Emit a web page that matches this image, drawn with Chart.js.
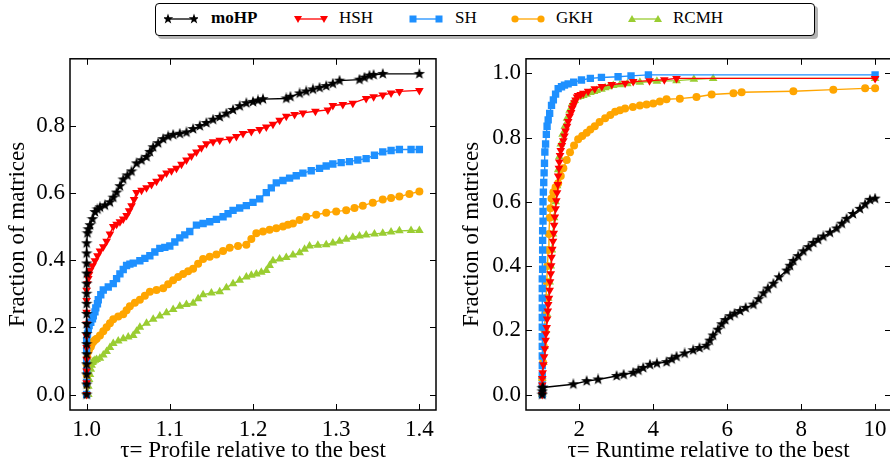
<!DOCTYPE html>
<html>
<head>
<meta charset="utf-8">
<script src="https://cdn.jsdelivr.net/npm/chart.js@4.4.1/dist/chart.umd.min.js"></script>
<style>
body { margin: 0; width: 890px; height: 468px; overflow: hidden; background: #fff; position: relative;
       font-family: "Liberation Serif", "Times New Roman", serif; }
#legend { position: absolute; left: 155px; top: 3px; width: 658px; height: 31px; border: 1.5px solid #000;
          border-radius: 4px; box-shadow: 3px 3px 0 #b4b4b4; background: #fff; z-index: 2; }
#legend svg, #legend span { position: absolute; }
#legend span { font-size: 17px; top: 4px; color: #000; }
#c1 { position: absolute; left: 0; top: 40px; }
#c2 { position: absolute; left: 445px; top: 40px; }
</style>
</head>
<body>
<div id="legend"></div>
<canvas id="c1" width="445" height="428"></canvas>
<canvas id="c2" width="460" height="428"></canvas>
<script>
// series names / colours
const names = ['moHP', 'HSH', 'SH', 'GKH', 'RCMH'];
const colors = ['#000000', '#ff0000', '#1e90ff', '#ffa500', '#9acd32'];

// left panel: profile relative to the best
const leftXTicks = [1.0, 1.1, 1.2, 1.3, 1.4];
const leftYTicks = [0.0, 0.2, 0.4, 0.6, 0.8];

const moHP_L_x = [1.0, 1.0, 1.0, 1.0, 1.0, 1.0, 1.0, 1.0, 1.0, 1.0, 1.0, 1.0, 1.0, 1.0, 1.0, 1.0, 1.001, 1.002, 1.004, 1.007, 1.01, 1.013, 1.016, 1.022, 1.028, 1.032, 1.036, 1.04, 1.044, 1.049, 1.054, 1.06, 1.066, 1.072, 1.076, 1.08, 1.086, 1.092, 1.098, 1.104, 1.112, 1.12, 1.128, 1.136, 1.144, 1.152, 1.16, 1.168, 1.176, 1.184, 1.192, 1.2, 1.206, 1.212, 1.24, 1.245, 1.256, 1.264, 1.272, 1.28, 1.288, 1.296, 1.304, 1.328, 1.334, 1.34, 1.345, 1.356, 1.4];
const moHP_L_y = [0, 0.03, 0.06, 0.09, 0.12, 0.15, 0.18, 0.21, 0.24, 0.27, 0.30, 0.33, 0.36, 0.39, 0.42, 0.45, 0.48, 0.492, 0.504, 0.522, 0.543, 0.551, 0.557, 0.563, 0.572, 0.586, 0.601, 0.62, 0.640, 0.652, 0.664, 0.688, 0.697, 0.707, 0.722, 0.736, 0.748, 0.760, 0.768, 0.773, 0.776, 0.780, 0.790, 0.799, 0.808, 0.818, 0.826, 0.836, 0.847, 0.858, 0.867, 0.871, 0.875, 0.879, 0.881, 0.886, 0.896, 0.902, 0.908, 0.913, 0.918, 0.925, 0.934, 0.937, 0.943, 0.949, 0.951, 0.954, 0.954];

const HSH_L_x = [1.0, 1.0, 1.0, 1.0, 1.0, 1.0, 1.0, 1.0, 1.0, 1.0, 1.001, 1.002, 1.003, 1.004, 1.007, 1.01, 1.013, 1.016, 1.02, 1.024, 1.028, 1.032, 1.036, 1.04, 1.044, 1.048, 1.051, 1.054, 1.057, 1.06, 1.066, 1.072, 1.078, 1.084, 1.09, 1.096, 1.102, 1.108, 1.114, 1.12, 1.126, 1.132, 1.138, 1.144, 1.152, 1.16, 1.172, 1.18, 1.188, 1.198, 1.208, 1.216, 1.224, 1.232, 1.24, 1.25, 1.26, 1.275, 1.29, 1.296, 1.308, 1.32, 1.336, 1.345, 1.356, 1.366, 1.376, 1.4];
const HSH_L_y = [0, 0.035, 0.07, 0.105, 0.14, 0.175, 0.21, 0.245, 0.28, 0.31, 0.33, 0.345, 0.358, 0.369, 0.383, 0.398, 0.413, 0.427, 0.44, 0.456, 0.478, 0.5, 0.507, 0.514, 0.522, 0.533, 0.547, 0.562, 0.58, 0.601, 0.608, 0.615, 0.625, 0.635, 0.647, 0.659, 0.666, 0.673, 0.685, 0.698, 0.71, 0.722, 0.734, 0.746, 0.752, 0.757, 0.760, 0.768, 0.777, 0.783, 0.789, 0.796, 0.804, 0.816, 0.828, 0.833, 0.838, 0.843, 0.847, 0.860, 0.863, 0.867, 0.881, 0.886, 0.891, 0.897, 0.902, 0.905];

const SH_L_x = [1.0, 1.0, 1.0, 1.0, 1.0, 1.0, 1.001, 1.002, 1.003, 1.005, 1.007, 1.008, 1.01, 1.011, 1.013, 1.014, 1.017, 1.02, 1.026, 1.032, 1.036, 1.04, 1.044, 1.048, 1.052, 1.056, 1.064, 1.07, 1.076, 1.082, 1.088, 1.094, 1.1, 1.106, 1.112, 1.118, 1.124, 1.132, 1.14, 1.148, 1.156, 1.164, 1.17, 1.176, 1.184, 1.192, 1.2, 1.208, 1.216, 1.222, 1.228, 1.236, 1.244, 1.252, 1.26, 1.27, 1.28, 1.288, 1.296, 1.306, 1.316, 1.326, 1.336, 1.346, 1.356, 1.366, 1.376, 1.39, 1.4];
const SH_L_y = [0, 0.035, 0.07, 0.1, 0.13, 0.16, 0.18, 0.195, 0.205, 0.215, 0.225, 0.234, 0.246, 0.258, 0.27, 0.282, 0.297, 0.311, 0.32, 0.330, 0.345, 0.359, 0.372, 0.384, 0.388, 0.391, 0.398, 0.405, 0.413, 0.424, 0.435, 0.438, 0.442, 0.454, 0.466, 0.475, 0.485, 0.504, 0.509, 0.514, 0.521, 0.529, 0.538, 0.548, 0.555, 0.562, 0.572, 0.582, 0.601, 0.615, 0.630, 0.637, 0.644, 0.651, 0.659, 0.666, 0.673, 0.680, 0.686, 0.690, 0.693, 0.698, 0.702, 0.712, 0.722, 0.726, 0.729, 0.729, 0.729];

const GKH_L_x = [1.0, 1.0, 1.0, 1.0, 1.001, 1.002, 1.003, 1.005, 1.006, 1.008, 1.01, 1.012, 1.016, 1.02, 1.024, 1.028, 1.032, 1.038, 1.044, 1.048, 1.052, 1.058, 1.064, 1.07, 1.076, 1.084, 1.092, 1.098, 1.104, 1.11, 1.116, 1.122, 1.128, 1.134, 1.14, 1.148, 1.156, 1.164, 1.172, 1.182, 1.192, 1.198, 1.204, 1.212, 1.22, 1.228, 1.236, 1.242, 1.248, 1.256, 1.264, 1.276, 1.288, 1.3, 1.312, 1.322, 1.332, 1.344, 1.356, 1.366, 1.376, 1.388, 1.4];
const GKH_L_y = [0, 0.03, 0.06, 0.09, 0.11, 0.128, 0.135, 0.142, 0.15, 0.157, 0.162, 0.166, 0.176, 0.188, 0.2, 0.212, 0.224, 0.232, 0.239, 0.251, 0.263, 0.273, 0.282, 0.294, 0.306, 0.311, 0.316, 0.328, 0.340, 0.350, 0.359, 0.367, 0.374, 0.389, 0.403, 0.41, 0.417, 0.427, 0.437, 0.442, 0.446, 0.463, 0.480, 0.485, 0.490, 0.495, 0.5, 0.505, 0.509, 0.519, 0.529, 0.535, 0.541, 0.545, 0.548, 0.555, 0.562, 0.571, 0.580, 0.585, 0.589, 0.597, 0.604];

const RCMH_L_x = [1.002, 1.002, 1.003, 1.004, 1.005, 1.006, 1.007, 1.008, 1.01, 1.012, 1.016, 1.02, 1.024, 1.028, 1.032, 1.038, 1.044, 1.05, 1.056, 1.06, 1.064, 1.072, 1.08, 1.088, 1.096, 1.104, 1.112, 1.12, 1.128, 1.134, 1.14, 1.15, 1.16, 1.168, 1.176, 1.184, 1.192, 1.198, 1.204, 1.21, 1.216, 1.22, 1.224, 1.232, 1.24, 1.248, 1.256, 1.262, 1.268, 1.278, 1.288, 1.296, 1.304, 1.312, 1.32, 1.328, 1.336, 1.346, 1.356, 1.366, 1.376, 1.39, 1.4];
const RCMH_L_y = [0, 0.025, 0.045, 0.06, 0.075, 0.087, 0.095, 0.099, 0.102, 0.104, 0.108, 0.118, 0.128, 0.14, 0.152, 0.159, 0.166, 0.171, 0.176, 0.188, 0.2, 0.212, 0.224, 0.234, 0.243, 0.253, 0.263, 0.268, 0.272, 0.285, 0.297, 0.302, 0.306, 0.318, 0.330, 0.340, 0.350, 0.355, 0.359, 0.364, 0.369, 0.384, 0.398, 0.403, 0.408, 0.415, 0.422, 0.432, 0.442, 0.444, 0.446, 0.451, 0.456, 0.462, 0.468, 0.472, 0.475, 0.478, 0.480, 0.484, 0.487, 0.488, 0.488];

// right panel: runtime relative to the best
const rightXTicks = [2, 4, 6, 8, 10];
const rightYTicks = [0.0, 0.2, 0.4, 0.6, 0.8, 1.0];

const moHP_R_x = [1.0, 1.0, 1.0, 1.02, 1.84, 2.2, 2.51, 3.01, 3.2, 3.46, 3.6, 3.73, 3.91, 4.1, 4.36, 4.5, 4.63, 4.85, 5.08, 5.25, 5.44, 5.53, 5.62, 5.75, 5.85, 5.95, 6.08, 6.2, 6.35, 6.5, 6.71, 6.85, 6.98, 7.1, 7.25, 7.4, 7.61, 7.7, 7.79, 7.92, 8.06, 8.2, 8.33, 8.46, 8.6, 8.78, 8.96, 9.1, 9.23, 9.4, 9.59, 9.73, 9.86, 10];
const moHP_R_y = [0.0, 0.01, 0.02, 0.022, 0.032, 0.042, 0.047, 0.058, 0.062, 0.068, 0.075, 0.083, 0.093, 0.097, 0.101, 0.11, 0.118, 0.128, 0.138, 0.145, 0.152, 0.168, 0.184, 0.202, 0.219, 0.232, 0.244, 0.252, 0.26, 0.27, 0.28, 0.297, 0.315, 0.33, 0.345, 0.365, 0.386, 0.401, 0.416, 0.431, 0.446, 0.459, 0.472, 0.482, 0.492, 0.504, 0.517, 0.532, 0.547, 0.562, 0.578, 0.592, 0.606, 0.61];

const HSH_R_x = [1.0, 1.0, 1.0, 1.01, 1.03, 1.05, 1.07, 1.09, 1.1, 1.12, 1.13, 1.15, 1.16, 1.18, 1.2, 1.21, 1.23, 1.24, 1.25, 1.27, 1.29, 1.31, 1.32, 1.34, 1.36, 1.38, 1.4, 1.42, 1.43, 1.45, 1.46, 1.48, 1.5, 1.53, 1.57, 1.6, 1.63, 1.67, 1.7, 1.74, 1.78, 1.81, 1.84, 1.87, 1.9, 1.94, 1.97, 2.04, 2.11, 2.24, 2.42, 2.61, 2.88, 3.24, 3.46, 3.9, 4.3, 4.63, 10];
const HSH_R_y = [0.0, 0.03, 0.05, 0.068, 0.093, 0.118, 0.143, 0.169, 0.189, 0.209, 0.235, 0.26, 0.28, 0.3, 0.325, 0.351, 0.376, 0.401, 0.427, 0.452, 0.477, 0.502, 0.527, 0.553, 0.578, 0.603, 0.628, 0.654, 0.68, 0.704, 0.724, 0.744, 0.76, 0.775, 0.79, 0.805, 0.82, 0.835, 0.85, 0.866, 0.878, 0.891, 0.9, 0.908, 0.917, 0.926, 0.931, 0.934, 0.938, 0.944, 0.952, 0.959, 0.965, 0.969, 0.974, 0.977, 0.98, 0.984, 0.984];

const SH_R_x = [1.0, 1.0, 1.0, 1.0, 1.0, 1.0, 1.0, 1.0, 1.0, 1.0, 1.0, 1.0, 1.0, 1.01, 1.01, 1.01, 1.01, 1.01, 1.02, 1.02, 1.02, 1.03, 1.04, 1.05, 1.06, 1.07, 1.09, 1.11, 1.13, 1.16, 1.2, 1.25, 1.3, 1.36, 1.43, 1.52, 1.6, 1.7, 1.85, 2.06, 2.3, 2.6, 3.05, 3.4, 3.87, 10];
const SH_R_y = [0.0, 0.03, 0.06, 0.09, 0.12, 0.15, 0.18, 0.21, 0.24, 0.27, 0.3, 0.33, 0.36, 0.39, 0.42, 0.45, 0.48, 0.51, 0.54, 0.57, 0.6, 0.63, 0.66, 0.69, 0.72, 0.755, 0.78, 0.81, 0.835, 0.855, 0.875, 0.9, 0.917, 0.935, 0.952, 0.958, 0.963, 0.967, 0.972, 0.979, 0.984, 0.987, 0.989, 0.992, 0.995, 0.995];

const GKH_R_x = [1.0, 1.0, 1.02, 1.04, 1.06, 1.08, 1.1, 1.12, 1.14, 1.16, 1.18, 1.2, 1.22, 1.25, 1.3, 1.36, 1.43, 1.5, 1.57, 1.66, 1.75, 1.86, 1.97, 2.08, 2.2, 2.3, 2.42, 2.55, 2.7, 2.84, 2.97, 3.1, 3.24, 3.45, 3.64, 3.82, 4.0, 4.18, 4.36, 4.72, 5.17, 5.58, 6.17, 6.39, 7.79, 8.87, 9.73, 10];
const GKH_R_y = [0, 0.05, 0.1, 0.15, 0.2, 0.25, 0.3, 0.35, 0.4, 0.45, 0.5, 0.55, 0.58, 0.61, 0.63, 0.645, 0.658, 0.68, 0.704, 0.73, 0.754, 0.775, 0.795, 0.805, 0.815, 0.825, 0.835, 0.848, 0.86, 0.87, 0.88, 0.885, 0.89, 0.895, 0.90, 0.903, 0.906, 0.912, 0.919, 0.921, 0.926, 0.934, 0.938, 0.941, 0.944, 0.949, 0.953, 0.953];

const RCMH_R_x = [1.0, 1.0, 1.03, 1.06, 1.1, 1.13, 1.16, 1.2, 1.23, 1.26, 1.29, 1.32, 1.36, 1.4, 1.43, 1.46, 1.5, 1.55, 1.61, 1.67, 1.74, 1.81, 1.88, 1.95, 2.03, 2.11, 2.2, 2.3, 2.4, 2.47, 2.6, 2.7, 2.8, 2.92, 3.1, 3.3, 3.64, 4.1, 4.63, 5.1, 5.62, 10];
const RCMH_R_y = [0, 0.05, 0.1, 0.15, 0.2, 0.25, 0.3, 0.35, 0.4, 0.45, 0.5, 0.55, 0.6, 0.65, 0.7, 0.74, 0.78, 0.81, 0.835, 0.86, 0.885, 0.906, 0.915, 0.925, 0.928, 0.931, 0.935, 0.94, 0.943, 0.946, 0.95, 0.955, 0.958, 0.962, 0.964, 0.967, 0.972, 0.975, 0.977, 0.981, 0.984, 0.984];

// filled five point star, like matplotlib's '*' marker
function starImage(size, color) {
    const c = document.createElement('canvas');
    c.width = size; c.height = size;
    const g = c.getContext('2d');
    const cx = size / 2, cy = size / 2, R = size / 2, r = R * 0.4;
    g.beginPath();
    for (let i = 0; i < 10; i++) {
        const a = -Math.PI / 2 + i * Math.PI / 5;
        const rad = i % 2 ? r : R;
        g.lineTo(cx + rad * Math.cos(a), cy + rad * Math.sin(a));
    }
    g.closePath();
    g.fillStyle = color;
    g.fill();
    return c;
}

const markers = [
    { style: starImage(12, colors[0]), rot: 0, r: 5 },
    { style: 'triangle', rot: 180, r: 5 },
    { style: 'rect', rot: 0, r: 5.2 },
    { style: 'circle', rot: 0, r: 4 },
    { style: 'triangle', rot: 0, r: 5 }
];

// inward ticks on all four sides plus the frame
const boxTicks = {
    id: 'boxTicks',
    afterDraw(chart) {
        const { ctx, chartArea: a, scales: { x, y } } = chart;
        ctx.save();
        ctx.strokeStyle = '#000';
        ctx.lineWidth = 1;
        ctx.beginPath();
        x.ticks.forEach(t => {
            const px = Math.round(x.getPixelForValue(t.value)) + 0.5;
            ctx.moveTo(px, a.top); ctx.lineTo(px, a.top + 6);
            ctx.moveTo(px, a.bottom); ctx.lineTo(px, a.bottom - 6);
        });
        y.ticks.forEach(t => {
            const py = Math.round(y.getPixelForValue(t.value)) + 0.5;
            ctx.moveTo(a.left, py); ctx.lineTo(a.left + 6, py);
            ctx.moveTo(a.right, py); ctx.lineTo(a.right - 6, py);
        });
        ctx.stroke();
        ctx.lineWidth = 1.5;
        ctx.strokeRect(a.left, a.top, a.right - a.left, a.bottom - a.top);
        ctx.restore();
    }
};

const tickFont = { family: '"Liberation Serif", "Times New Roman", serif', size: 23 };
const titleFont = { family: '"Liberation Serif", "Times New Roman", serif', size: 23 };

function makeChart(canvas, xs, ys, xRange, yRange, xTicks, yTicks, xFmt, xTitle, pad, yWidth) {
    return new Chart(canvas, {
        type: 'line',
        data: {
            datasets: names.map((n, i) => ({
                label: n,
                data: xs[i].map((v, j) => ({ x: v, y: ys[i][j] })),
                borderColor: colors[i],
                backgroundColor: colors[i],
                borderWidth: 1.4,
                pointStyle: markers[i].style,
                pointRotation: markers[i].rot,
                pointRadius: markers[i].r,
                pointHoverRadius: markers[i].r,
                pointBorderWidth: 0,
                tension: 0,
                fill: false
            }))
        },
        options: {
            responsive: false,
            animation: false,
            devicePixelRatio: 1,
            layout: { padding: pad },
            plugins: { legend: { display: false }, tooltip: { enabled: false } },
            scales: {
                x: {
                    type: 'linear', min: xRange[0], max: xRange[1],
                    afterBuildTicks: ax => { ax.ticks = xTicks.map(v => ({ value: v })); },
                    afterFit: ax => { ax.height = 58; },
                    grid: { display: false, drawTicks: false }, border: { display: false },
                    ticks: { color: '#000', font: tickFont, padding: 6, maxRotation: 0, callback: xFmt },
                    title: { display: true, text: xTitle, color: '#000', font: titleFont, padding: { top: 0, bottom: 3 } }
                },
                y: {
                    type: 'linear', min: yRange[0], max: yRange[1],
                    afterBuildTicks: ax => { ax.ticks = yTicks.map(v => ({ value: v })); },
                    afterFit: ax => { ax.width = yWidth; },
                    grid: { display: false, drawTicks: false }, border: { display: false },
                    ticks: { color: '#000', font: tickFont, padding: 5, callback: v => v.toFixed(1) },
                    title: { display: true, text: 'Fraction of matrices', color: '#000', font: titleFont, padding: { top: 4.5, bottom: 0 } }
                }
            }
        },
        plugins: [boxTicks]
    });
}

makeChart(document.getElementById('c1'),
    [moHP_L_x, HSH_L_x, SH_L_x, GKH_L_x, RCMH_L_x],
    [moHP_L_y, HSH_L_y, SH_L_y, GKH_L_y, RCMH_L_y],
    [0.98, 1.42], [-0.046, 0.999], leftXTicks, leftYTicks,
    v => v.toFixed(1), 'τ= Profile relative to the best',
    { top: 9, right: 9, left: 0, bottom: 0 }, 70);

makeChart(document.getElementById('c2'),
    [moHP_R_x, HSH_R_x, SH_R_x, GKH_R_x, RCMH_R_x],
    [moHP_R_y, HSH_R_y, SH_R_y, GKH_R_y, RCMH_R_y],
    [0.56, 10.43], [-0.048, 1.045], rightXTicks, rightYTicks,
    v => String(v), 'τ= Runtime relative to the best',
    { top: 9, right: 14, left: 8.4, bottom: 0 }, 72.6);

// legend spanning both panels
const legendPos = [[8, 55], [138, 183], [253, 299], [355, 400], [472, 517]];
const legend = document.getElementById('legend');
function markerSvg(i, cx, cy) {
    const c = colors[i];
    if (i === 0) {
        let pts = [];
        for (let k = 0; k < 10; k++) {
            const a = -Math.PI / 2 + k * Math.PI / 5, rad = k % 2 ? 2.2 : 5.5;
            pts.push((cx + rad * Math.cos(a)).toFixed(2) + ',' + (cy + rad * Math.sin(a)).toFixed(2));
        }
        return `<polygon points="${pts.join(' ')}" fill="${c}"/>`;
    }
    if (i === 1) return `<polygon points="${cx - 4},${cy - 3} ${cx + 4},${cy - 3} ${cx},${cy + 4}" fill="${c}"/>`;
    if (i === 2) return `<rect x="${cx - 3.5}" y="${cy - 3.5}" width="7" height="7" fill="${c}"/>`;
    if (i === 3) return `<circle cx="${cx}" cy="${cy}" r="3.6" fill="${c}"/>`;
    return `<polygon points="${cx - 4},${cy + 3} ${cx + 4},${cy + 3} ${cx},${cy - 4}" fill="${c}"/>`;
}
names.forEach((n, i) => {
    const [iconX, textX] = legendPos[i];
    const svg = `<svg width="34" height="14" style="left:${iconX}px;top:8px">` +
        `<line x1="4" y1="7" x2="30" y2="7" stroke="${colors[i]}" stroke-width="1.3"/>` +
        markerSvg(i, 4, 7) + markerSvg(i, 30, 7) + `</svg>`;
    legend.insertAdjacentHTML('beforeend', svg);
    const span = document.createElement('span');
    span.textContent = n;
    span.style.left = textX + 'px';
    if (i === 0) span.style.fontWeight = 'bold';
    legend.appendChild(span);
});
</script>
</body>
</html>
